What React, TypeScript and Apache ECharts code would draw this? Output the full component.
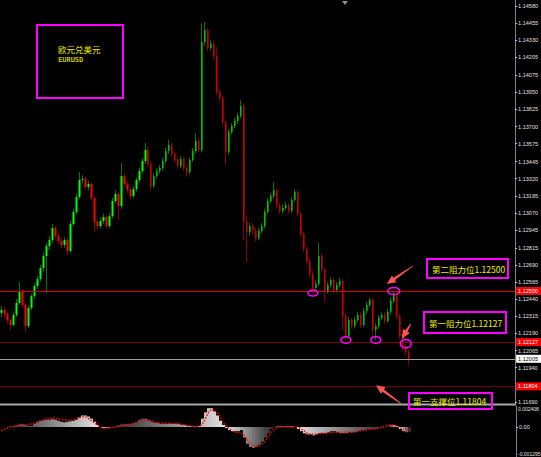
import React, { useEffect, useRef } from "react";
import * as echarts from "echarts";

// EURUSD bars: open / close / low / high
const opens = [
  1.12340, 1.12361, 1.12332, 1.12288, 1.12252, 1.12325, 1.12412, 1.12492, 1.12398, 1.12244,
  1.12376, 1.12463, 1.12536, 1.12587, 1.12668, 1.12755, 1.12828, 1.12872, 1.12960, 1.12901,
  1.12865, 1.12836, 1.12872, 1.12792, 1.12989, 1.13076, 1.13186, 1.13310, 1.13317, 1.13259,
  1.13281, 1.13179, 1.13003, 1.12974, 1.13011, 1.13040, 1.12974, 1.13047, 1.13157, 1.13208,
  1.13120, 1.13339, 1.13281, 1.13237, 1.13193, 1.13244, 1.13310, 1.13376, 1.13449, 1.13529,
  1.13427, 1.13266, 1.13339, 1.13376, 1.13398, 1.13449, 1.13522, 1.13566, 1.13500, 1.13456,
  1.13412, 1.13463, 1.13398, 1.13368, 1.13456, 1.13522, 1.13595, 1.13529, 1.14317, 1.14405,
  1.14274, 1.14303, 1.14215, 1.13952, 1.13909, 1.13733, 1.13514, 1.13660, 1.13704, 1.13741,
  1.13777, 1.13850, 1.13003, 1.12930, 1.12974, 1.12938, 1.12887, 1.12938, 1.12974, 1.13076,
  1.13157, 1.13193, 1.13237, 1.13127, 1.13084, 1.13106, 1.13127, 1.13084, 1.13164, 1.13222,
  1.13062, 1.12916, 1.12806, 1.12719, 1.12624, 1.12522, 1.12551, 1.12755, 1.12653, 1.12500,
  1.12544, 1.12580, 1.12507, 1.12544, 1.12573, 1.12317, 1.12169, 1.12288, 1.12244, 1.12288,
  1.12325, 1.12252, 1.12354, 1.12398, 1.12434, 1.12215, 1.12244, 1.12303, 1.12325, 1.12281,
  1.12348, 1.12427, 1.12471, 1.12317, 1.12171, 1.12098, 1.12054,
];

const closes = [
  1.12361, 1.12332, 1.12288, 1.12252, 1.12325, 1.12412, 1.12492, 1.12398, 1.12244, 1.12376,
  1.12463, 1.12536, 1.12587, 1.12668, 1.12755, 1.12828, 1.12872, 1.12960, 1.12901, 1.12865,
  1.12836, 1.12872, 1.12792, 1.12989, 1.13076, 1.13186, 1.13310, 1.13317, 1.13259, 1.13281,
  1.13179, 1.13003, 1.12974, 1.13011, 1.13040, 1.12974, 1.13047, 1.13157, 1.13208, 1.13120,
  1.13339, 1.13281, 1.13237, 1.13193, 1.13244, 1.13310, 1.13376, 1.13449, 1.13529, 1.13427,
  1.13266, 1.13339, 1.13376, 1.13398, 1.13449, 1.13522, 1.13566, 1.13500, 1.13456, 1.13412,
  1.13463, 1.13398, 1.13368, 1.13456, 1.13522, 1.13595, 1.13529, 1.14317, 1.14405, 1.14274,
  1.14303, 1.14215, 1.13952, 1.13909, 1.13733, 1.13514, 1.13660, 1.13704, 1.13741, 1.13777,
  1.13850, 1.13003, 1.12930, 1.12974, 1.12938, 1.12887, 1.12938, 1.12974, 1.13076, 1.13157,
  1.13193, 1.13237, 1.13127, 1.13084, 1.13106, 1.13127, 1.13084, 1.13164, 1.13222, 1.13062,
  1.12916, 1.12806, 1.12719, 1.12624, 1.12522, 1.12551, 1.12755, 1.12653, 1.12500, 1.12544,
  1.12580, 1.12507, 1.12544, 1.12573, 1.12317, 1.12169, 1.12288, 1.12244, 1.12288, 1.12325,
  1.12252, 1.12354, 1.12398, 1.12434, 1.12215, 1.12244, 1.12303, 1.12325, 1.12281, 1.12348,
  1.12427, 1.12471, 1.12317, 1.12171, 1.12098, 1.12054, 1.12005,
];

const lows = [
  1.12310, 1.12300, 1.12262, 1.12215, 1.12240, 1.12310, 1.12400, 1.12380, 1.12200, 1.12230,
  1.12360, 1.12445, 1.12515, 1.12570, 1.12640, 1.12485, 1.12800, 1.12850, 1.12880, 1.12840,
  1.12810, 1.12815, 1.12763, 1.12780, 1.12970, 1.13060, 1.13170, 1.13285, 1.13240, 1.13235,
  1.13160, 1.12930, 1.12950, 1.12955, 1.12990, 1.12955, 1.12960, 1.13030, 1.13140, 1.13018,
  1.13100, 1.13260, 1.13215, 1.13170, 1.13175, 1.13225, 1.13290, 1.13355, 1.13430, 1.13405,
  1.13237, 1.13250, 1.13320, 1.13355, 1.13380, 1.13430, 1.13500, 1.13480, 1.13435, 1.13390,
  1.13395, 1.13375, 1.13332, 1.13350, 1.13440, 1.13505, 1.13510, 1.13510, 1.14290, 1.14250,
  1.14255, 1.14190, 1.13930, 1.13885, 1.13710, 1.13419, 1.13495, 1.13640, 1.13685, 1.13720,
  1.13760, 1.12872, 1.12711, 1.12905, 1.12915, 1.12860, 1.12870, 1.12920, 1.12955, 1.13060,
  1.13140, 1.13175, 1.13105, 1.13060, 1.13065, 1.13090, 1.13065, 1.13070, 1.13150, 1.13045,
  1.12895, 1.12785, 1.12700, 1.12600, 1.12485, 1.12505, 1.12535, 1.12630, 1.12412, 1.12480,
  1.12525, 1.12485, 1.12490, 1.12525, 1.12215, 1.12142, 1.12150, 1.12225, 1.12225, 1.12270,
  1.12230, 1.12235, 1.12335, 1.12380, 1.12157, 1.12142, 1.12225, 1.12285, 1.12260, 1.12265,
  1.12330, 1.12410, 1.12295, 1.12150, 1.12069, 1.12030, 1.11959,
];

const highs = [
  1.12390, 1.12385, 1.12350, 1.12305, 1.12345, 1.12440, 1.12565, 1.12515, 1.12410, 1.12395,
  1.12480, 1.12560, 1.12610, 1.12690, 1.12780, 1.12850, 1.12900, 1.12990, 1.12975, 1.12920,
  1.12885, 1.12895, 1.12890, 1.13010, 1.13100, 1.13210, 1.13368, 1.13345, 1.13335, 1.13305,
  1.13295, 1.13190, 1.13020, 1.13035, 1.13065, 1.13055, 1.13070, 1.13180, 1.13235, 1.13225,
  1.13434, 1.13360, 1.13300, 1.13255, 1.13265, 1.13330, 1.13400, 1.13470, 1.13580, 1.13550,
  1.13440, 1.13360, 1.13395, 1.13420, 1.13470, 1.13545, 1.13602, 1.13585, 1.13520, 1.13475,
  1.13485, 1.13480, 1.13415, 1.13475, 1.13545, 1.13653, 1.13615, 1.14456, 1.14463, 1.14420,
  1.14330, 1.14320, 1.14281, 1.13975, 1.13925, 1.13750, 1.13680, 1.13725, 1.13765, 1.13800,
  1.13894, 1.13870, 1.13050, 1.13000, 1.12995, 1.12960, 1.12960, 1.12995, 1.13100, 1.13180,
  1.13215, 1.13295, 1.13255, 1.13145, 1.13130, 1.13150, 1.13145, 1.13185, 1.13244, 1.13235,
  1.13080, 1.12935, 1.12825, 1.12740, 1.12645, 1.12575, 1.12850, 1.12775, 1.12670, 1.12565,
  1.12600, 1.12600, 1.12565, 1.12595, 1.12590, 1.12335, 1.12310, 1.12305, 1.12310, 1.12345,
  1.12345, 1.12375, 1.12420, 1.12449, 1.12450, 1.12265, 1.12325, 1.12345, 1.12345, 1.12370,
  1.12450, 1.12500, 1.12490, 1.12335, 1.12190, 1.12115, 1.12075,
];

// Oscillator pane: histogram and its dotted signal line
const histogram = [
  0, 0, 0.00006, 0.00006,
  0.00012, 0.00024, 0.00036, 0.00036, 0.00024, 0.00012,
  0.00012,
  0.00036, 0.0006, 0.00072, 0.00078, 0.00084, 0.00084, 0.0009, 0.00084, 0.00072,
  0.0006, 0.00054, 0.0006, 0.00066, 0.00072, 0.00084,
  0.00108, 0.00132, 0.00132, 0.0012, 0.00096, 0.0006,
  0.00024, 0,
  -0.00012, -0.00012, -0.00012, -0.00006,
  0.00012, 0.00024, 0.00036, 0.00036, 0.00036, 0.00036, 0.00048,
  0.0006, 0.00084, 0.00096, 0.00096, 0.00084, 0.0006,
  0.00048, 0.00048, 0.00036, 0.00036, 0.00036, 0.00036, 0.00036, 0.00036, 0.00036, 0.00024, 0.00024, 0.00012, 0.00012,
  0.00006, 0.00006, 0.00012,
  0.00096, 0.00168, 0.00216, 0.00216,
  0.0018, 0.00132, 0.00072, 0.00024, -0.00012,
  -0.00036, -0.00048, -0.00048, -0.00048, -0.00036,
  -0.0012, -0.00192, -0.00228, -0.0024, -0.00228, -0.00204,
  -0.00168, -0.0012, -0.00072, -0.00024,
  0.00006, 0.00012, 0.00012, 0.00006, 0.00006, 0.00006, 0.00006, 0,
  -0.00024, -0.00048, -0.00072, -0.00084,
  -0.00084, -0.00096, -0.00084, -0.00072, -0.00072, -0.00072, -0.0006, -0.00048,
  -0.00048, -0.0006, -0.00072, -0.00072, -0.00072, -0.0006, -0.0006, -0.0006,
  -0.00048, -0.00036, -0.00036, -0.00024, -0.00024, -0.00024, -0.00024, -0.00012,
  -0.00012, 0, 0.00012, 0.00024, 0.00024,
  0.00012, -0.00024, -0.00048, -0.0006, -0.0006,
];

const signal = [
  -0.00048, -0.00024, -0.00012, 0, 0.00006, 0.00012, 0.00018, 0.00024, 0.00024, 0.0003,
  0.00036, 0.00042, 0.0006, 0.00072, 0.00084, 0.00096, 0.00096, 0.00102, 0.00102, 0.00096,
  0.00084, 0.00078, 0.00078, 0.00078, 0.00084, 0.00096, 0.00108, 0.0012, 0.00114, 0.00096,
  0.00072, 0.00048, 0.00024, 0, -0.00012, -0.00012, -0.00012, -0.00006, 0, 0.00006,
  0.00012, 0.00018, 0.00024, 0.0003, 0.00036, 0.00048, 0.00066, 0.00078, 0.00078, 0.00072,
  0.00066, 0.0006, 0.00048, 0.00042, 0.00042, 0.00042, 0.00042, 0.00042, 0.00042, 0.00036,
  0.0003, 0.00024, 0.00018, 0.00012, 0.00006, 0.00006, 0.00012, 0.00036, 0.00096, 0.00168,
  0.00204, 0.00192, 0.00156, 0.00108, 0.00048, 0.00012, -0.00024, -0.00048, -0.0006, -0.0006,
  -0.00072, -0.00096, -0.00144, -0.00192, -0.00216, -0.00216, -0.00216, -0.00192, -0.00156, -0.00108,
  -0.0006, -0.00024, 0, 0, 0, 0, 0, 0, 0, 0,
  -0.00024, -0.00048, -0.00072, -0.00084, -0.00084, -0.00084, -0.00072, -0.00072, -0.00072, -0.00066,
  -0.0006, -0.0006, -0.0006, -0.0006, -0.0006, -0.0006, -0.0006, -0.0006, -0.00054, -0.00048,
  -0.00042, -0.00036, -0.0003, -0.00024, -0.00024, -0.00018, -0.00012, 0, 0.00012, 0.00024,
  0.00024, 0.00018, 0.00006, -0.00012, -0.00024, -0.00036, -0.00036,
];

// Price scale labels
const priceTicks = [
  1.1458, 1.14455, 1.1433, 1.14205, 1.14075, 1.1395, 1.13825, 1.137, 1.13575, 1.13445,
  1.1332, 1.13195, 1.1307, 1.12945, 1.12815, 1.1269, 1.12565, 1.1244, 1.12315, 1.1219,
  1.12065, 1.1194, 1.1169,
];
const indicatorZero = [0];
const indicatorTopLabel = "0.002408";
const indicatorFloorLabel = "-0.001295";

// Key levels
const resistance2 = 1.125;
const resistance1 = 1.12127;
const support1 = 1.11804;

const symbolName = "欧元兑美元";
const symbolCode = "EURUSD";
const SLOT_COUNT = 172;

const YELLOW = "#eeee00";
const MAGENTA = "#ff00ff";
const ARROW = "#ff5252";
const AXIS_TEXT = "#e0e0e0";

function arrowPoints(tail: number[], tip: number[]) {
  const dx = tip[0] - tail[0];
  const dy = tip[1] - tail[1];
  const len = Math.hypot(dx, dy);
  const ux = dx / len;
  const uy = dy / len;
  const nx = -uy;
  const ny = ux;
  const head = 9;
  const hw = 4;
  const neck = 1.3;
  const tw = 0.4;
  const bx = tip[0] - ux * head;
  const by = tip[1] - uy * head;
  return [
    [tail[0] + nx * tw, tail[1] + ny * tw],
    [bx + nx * neck, by + ny * neck],
    [bx + nx * hw, by + ny * hw],
    [tip[0], tip[1]],
    [bx - nx * hw, by - ny * hw],
    [bx - nx * neck, by - ny * neck],
    [tail[0] - nx * tw, tail[1] - ny * tw],
  ];
}

// grey shading that runs across each hump of the histogram
function humpShades(values: number[]) {
  const out: string[] = new Array(values.length);
  let start = 0;
  const sign = (v: number) => (v > 0 ? 1 : v < 0 ? -1 : 0);
  for (let i = 1; i <= values.length; i++) {
    if (i === values.length || sign(values[i]) !== sign(values[start])) {
      const n = i - start;
      for (let k = start; k < i; k++) {
        const t = n > 1 ? (k - start) / (n - 1) : 0.5;
        const f = sign(values[start]) >= 0 ? t : 1 - t;
        const g = Math.round(45 + 180 * f);
        out[k] = `rgb(${g},${g},${g})`;
      }
      start = i;
    }
  }
  return out;
}

export default function App() {
  const ref = useRef<HTMLDivElement>(null);

  useEffect(() => {
    const el = ref.current;
    if (!el) return;
    const chart = echarts.init(el, null, { renderer: "svg" });

    const slots = Array.from({ length: SLOT_COUNT }, (_, i) => String(i));
    const ohlc = opens.map((o, i) => [o, closes[i], lows[i], highs[i]]);
    const bodies = opens.map((o, i) => [
      o,
      closes[i],
      Math.min(o, closes[i]),
      Math.max(o, closes[i]),
    ]);
    const lastClose = closes[closes.length - 1];
    const shades = humpShades(histogram);

    const tagLabel = (bg: string, fg: string) => ({
      show: true,
      position: "end",
      distance: 1,
      formatter: (p: any) => Number(p.value).toFixed(5),
      backgroundColor: bg,
      color: fg,
      fontSize: 5.5,
      padding: [1, 4, 1, 2],
    });

    chart.setOption({
      animation: false,
      backgroundColor: "#000000",
      textStyle: { fontFamily: "Liberation Sans" },
      grid: [
        { left: 0, right: 25, top: 0, height: 404 },
        { left: 0, right: 25, top: 406, height: 51 },
      ],
      xAxis: [
        { type: "category", data: slots, gridIndex: 0, show: false, boundaryGap: true },
        { type: "category", data: slots, gridIndex: 1, show: false, boundaryGap: true },
      ],
      yAxis: [
        {
          type: "value",
          gridIndex: 0,
          position: "right",
          min: 1.11675,
          max: 1.14624,
          splitLine: { show: false },
          axisLine: { show: true, lineStyle: { color: "#808080", width: 1 } },
          axisTick: {
            show: true,
            length: 2,
            customValues: priceTicks,
            lineStyle: { color: "#c0c0c0" },
          },
          axisLabel: {
            customValues: priceTicks,
            formatter: (v: number) => v.toFixed(5),
            color: AXIS_TEXT,
            fontSize: 5.5,
            margin: 3,
          },
        },
        {
          type: "value",
          gridIndex: 1,
          position: "right",
          min: -0.00344,
          max: 0.002408,
          splitLine: { show: false },
          axisLine: { show: true, lineStyle: { color: "#808080", width: 1 } },
          axisTick: {
            show: true,
            length: 2,
            customValues: indicatorZero,
            lineStyle: { color: "#c0c0c0" },
          },
          axisLabel: {
            customValues: indicatorZero,
            formatter: () => "0.00",
            color: AXIS_TEXT,
            fontSize: 5.5,
            margin: 3,
          },
        },
      ],
      series: [
        {
          name: "wicks",
          type: "candlestick",
          xAxisIndex: 0,
          yAxisIndex: 0,
          data: ohlc,
          barWidth: 1,
          itemStyle: {
            color: "#007a00",
            color0: "#8a0000",
            borderColor: "#007a00",
            borderColor0: "#8a0000",
            borderWidth: 1,
          },
        },
        {
          name: "bodies",
          type: "candlestick",
          xAxisIndex: 0,
          yAxisIndex: 0,
          data: bodies,
          barWidth: 2,
          itemStyle: {
            color: "#00ff00",
            color0: "#ff0000",
            borderColor: "#00ff00",
            borderColor0: "#ff0000",
            borderWidth: 0,
          },
        },
        {
          // carrier for the level lines and their price tags
          name: "levels",
          type: "line",
          xAxisIndex: 0,
          yAxisIndex: 0,
          data: closes,
          symbol: "none",
          clip: false,
          lineStyle: { opacity: 0 },
          z: 1,
          markLine: {
            silent: true,
            symbol: ["none", "none"],
            precision: 5,
            data: [
              {
                yAxis: resistance2,
                lineStyle: { color: "#d00000", width: 1, type: "solid" },
                label: tagLabel("#ff0000", "#ffffff"),
              },
              {
                yAxis: resistance1,
                lineStyle: { color: "#7a0000", width: 1, type: "solid" },
                label: tagLabel("#ff0000", "#ffffff"),
              },
              {
                yAxis: support1,
                lineStyle: { color: "#7a0000", width: 1, type: "solid" },
                label: tagLabel("#ff0000", "#ffffff"),
              },
              {
                yAxis: lastClose,
                lineStyle: { color: "#a0a0a0", width: 1, type: "solid" },
                label: tagLabel("#ffffff", "#000000"),
              },
            ],
          },
        },
        {
          name: "histogram",
          type: "bar",
          xAxisIndex: 1,
          yAxisIndex: 1,
          data: histogram,
          barCategoryGap: "0%",
          barWidth: "100%",
          itemStyle: { color: (p: any) => shades[p.dataIndex] },
        },
        {
          name: "signal",
          type: "line",
          xAxisIndex: 1,
          yAxisIndex: 1,
          data: signal,
          symbol: "none",
          z: 5,
          lineStyle: { color: "#ff0000", width: 1.5, type: "dotted" },
        },
      ],
    });

    const at = (i: number, p: number) =>
      chart.convertToPixel({ gridIndex: 0 }, [i, p]) as number[];

    const marks = [
      at(104, lows[104]),
      at(115, lows[115]),
      at(125, lows[125]),
      at(131, highs[131]),
      at(135, highs[135]),
    ];
    const radii = [
      [5, 3],
      [5, 3.3],
      [5, 3.3],
      [6, 3.6],
      [5.5, 4.3],
    ];
    const ellipses = marks.map((c, k) => ({
      type: "ellipse",
      shape: { cx: c[0], cy: c[1], rx: radii[k][0], ry: radii[k][1] },
      style: { fill: "none", stroke: MAGENTA, lineWidth: 1.5 },
      z: 20,
    }));

    const d = marks[3];
    const e = marks[4];
    const supportPx = at(125, support1);
    const arrows = [
      [[d[0] + 19, d[1] - 25], [d[0] - 7, d[1] - 7]],
      [[e[0] + 5, e[1] - 20], [e[0] - 4, e[1] - 5]],
      [[supportPx[0] + 25, supportPx[1] + 17], [supportPx[0], supportPx[1] - 1]],
    ].map(([tail, tip]) => ({
      type: "polygon",
      shape: { points: arrowPoints(tail, tip) },
      style: { fill: ARROW },
      z: 20,
    }));

    const box = (x: number, y: number, w: number, h: number) => ({
      type: "rect",
      shape: { x, y, width: w, height: h },
      style: { fill: "none", stroke: MAGENTA, lineWidth: 2 },
      z: 20,
    });
    const label = (x: number, y: number, text: string, size = 8.5) => ({
      type: "text",
      x,
      y,
      style: {
        text,
        fill: YELLOW,
        fontSize: size,
        fontFamily: "Noto Sans CJK SC",
        verticalAlign: "middle",
        align: "left",
      },
      z: 21,
    });
    const axisText = (y: number, text: string, va: string) => ({
      type: "text",
      x: 518,
      y,
      style: {
        text,
        fill: AXIS_TEXT,
        fontSize: 5,
        fontFamily: "Liberation Sans",
        verticalAlign: va,
      },
      z: 21,
    });

    chart.setOption({
      graphic: [
        // separator between price pane and oscillator pane
        {
          type: "rect",
          shape: { x: 0, y: 403.5, width: 516, height: 2 },
          style: { fill: "#a8a8a8" },
          z: 10,
        },
        {
          type: "polygon",
          shape: { points: [[342, 1], [348, 1], [345, 5]] },
          style: { fill: "#909090" },
          z: 10,
        },
        box(37, 25, 86, 73),
        label(58, 49, symbolName, 8.5),
        {
          type: "text",
          x: 58,
          y: 60,
          style: {
            text: symbolCode,
            fill: "#c8c800",
            fontSize: 7,
            fontWeight: "bold",
            fontFamily: "DejaVu Sans Mono",
            verticalAlign: "middle",
          },
          z: 21,
        },
        box(427, 259, 81, 19),
        label(432, 268.5, "第二阻力位" + resistance2.toFixed(5)),
        box(424, 312, 82, 21),
        label(429, 322.5, "第一阻力位" + resistance1.toFixed(5)),
        box(409, 393, 83, 16),
        label(413, 401, "第一支撑位" + support1.toFixed(5)),
        ...ellipses,
        ...arrows,
        axisText(406, indicatorTopLabel, "top"),
        axisText(456, indicatorFloorLabel, "bottom"),
      ],
    });

    return () => chart.dispose();
  }, []);

  return (
    <div
      ref={ref}
      style={{
        position: "fixed",
        left: 0,
        top: 0,
        width: 541,
        height: 457,
        background: "#000000",
      }}
    />
  );
}
